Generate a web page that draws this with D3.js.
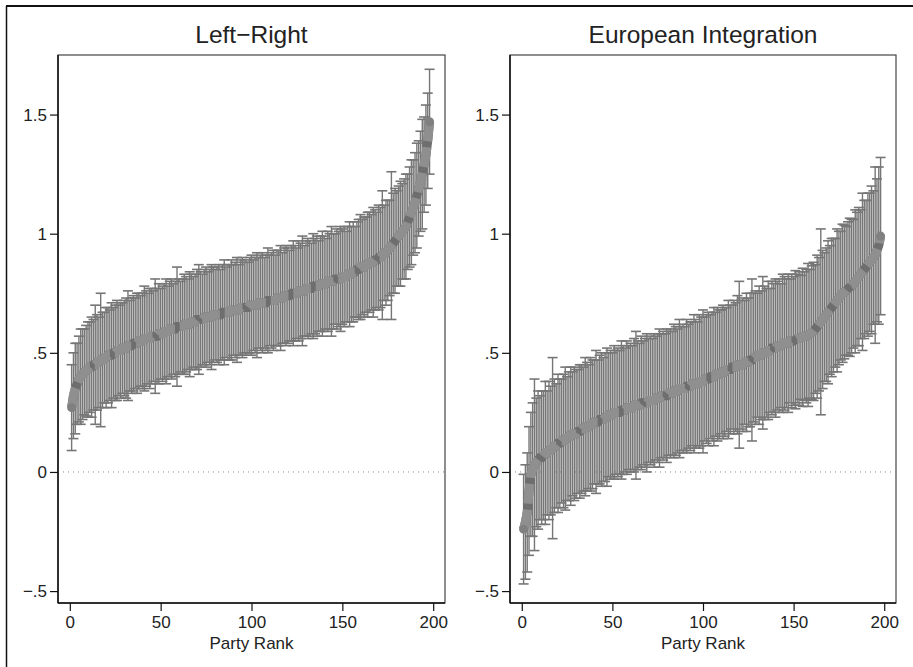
<!DOCTYPE html>
<html>
<head>
<meta charset="UTF-8">
<title>Party Rank</title>
<style>
    body { margin: 0; padding: 0; background: #fff; }
    svg { display: block; }
    text { font-family: "Liberation Sans", Arial, Helvetica, sans-serif; fill: #222; }
</style>
<script src="https://d3js.org/d3.v7.min.js"></script>
</head>
<body>
<script>
const width = 913;
const height = 667;

const yTicks = [-0.5, 0, 0.5, 1, 1.5];
const xTicks = [0, 50, 100, 150, 200];
const panelTitles = ["Left\u2212Right", "European Integration"];
const xLabel = "Party Rank";

// Left-Right: estimated mean per party rank (1..198) and CI half-width
const lrMean = [
    0.27, 0.32, 0.35, 0.37, 0.39, 0.40, 0.41, 0.42, 0.425, 0.43,
    0.44, 0.44, 0.45, 0.45, 0.46, 0.46, 0.47, 0.47, 0.48, 0.48,
    0.49, 0.49, 0.49, 0.50, 0.50, 0.51, 0.51, 0.51, 0.52, 0.52,
    0.52, 0.53, 0.53, 0.53, 0.54, 0.54, 0.54, 0.55, 0.55, 0.55,
    0.56, 0.56, 0.56, 0.56, 0.57, 0.57, 0.57, 0.57, 0.58, 0.58,
    0.58, 0.59, 0.59, 0.59, 0.60, 0.60, 0.60, 0.60, 0.61, 0.61,
    0.61, 0.61, 0.62, 0.62, 0.62, 0.62, 0.63, 0.63, 0.63, 0.64,
    0.64, 0.64, 0.64, 0.65, 0.65, 0.65, 0.65, 0.65, 0.66, 0.66,
    0.66, 0.66, 0.66, 0.67, 0.67, 0.67, 0.67, 0.67, 0.68, 0.68,
    0.68, 0.68, 0.68, 0.69, 0.69, 0.69, 0.69, 0.69, 0.70, 0.70,
    0.70, 0.70, 0.70, 0.71, 0.71, 0.71, 0.71, 0.71, 0.72, 0.72,
    0.72, 0.72, 0.72, 0.73, 0.73, 0.73, 0.73, 0.74, 0.74, 0.74,
    0.74, 0.75, 0.75, 0.75, 0.75, 0.76, 0.76, 0.76, 0.76, 0.77,
    0.77, 0.77, 0.77, 0.78, 0.78, 0.78, 0.78, 0.79, 0.79, 0.79,
    0.79, 0.80, 0.80, 0.80, 0.80, 0.81, 0.81, 0.81, 0.81, 0.82,
    0.82, 0.82, 0.83, 0.83, 0.83, 0.84, 0.84, 0.85, 0.85, 0.86,
    0.86, 0.86, 0.87, 0.87, 0.88, 0.88, 0.88, 0.89, 0.89, 0.90,
    0.90, 0.91, 0.92, 0.92, 0.93, 0.94, 0.95, 0.96, 0.97, 0.98,
    0.99, 1.00, 1.01, 1.02, 1.03, 1.05, 1.07, 1.09, 1.11, 1.13,
    1.16, 1.19, 1.22, 1.25, 1.29, 1.33, 1.39, 1.47
];
const lrHalf = [
    0.18, 0.18, 0.19, 0.17, 0.18, 0.20, 0.19, 0.18, 0.19, 0.20,
    0.19, 0.21, 0.19, 0.25, 0.20, 0.19, 0.28, 0.20, 0.19, 0.21,
    0.20, 0.19, 0.22, 0.19, 0.20, 0.21, 0.19, 0.20, 0.19, 0.20,
    0.21, 0.23, 0.19, 0.20, 0.20, 0.19, 0.21, 0.20, 0.19, 0.20,
    0.22, 0.20, 0.19, 0.21, 0.20, 0.19, 0.24, 0.20, 0.21, 0.19,
    0.20, 0.20, 0.22, 0.19, 0.20, 0.21, 0.19, 0.20, 0.25, 0.20,
    0.19, 0.20, 0.21, 0.20, 0.19, 0.22, 0.20, 0.19, 0.20, 0.21,
    0.23, 0.20, 0.19, 0.20, 0.21, 0.19, 0.20, 0.22, 0.20, 0.19,
    0.20, 0.21, 0.19, 0.20, 0.22, 0.19, 0.20, 0.20, 0.21, 0.19,
    0.20, 0.22, 0.19, 0.20, 0.21, 0.19, 0.20, 0.19, 0.20, 0.21,
    0.19, 0.20, 0.22, 0.19, 0.20, 0.21, 0.19, 0.20, 0.22, 0.19,
    0.20, 0.21, 0.19, 0.20, 0.20, 0.22, 0.19, 0.20, 0.21, 0.20,
    0.19, 0.20, 0.22, 0.20, 0.19, 0.21, 0.20, 0.23, 0.19, 0.20,
    0.21, 0.20, 0.19, 0.22, 0.20, 0.21, 0.19, 0.20, 0.22, 0.20,
    0.19, 0.21, 0.20, 0.23, 0.20, 0.19, 0.21, 0.20, 0.22, 0.20,
    0.21, 0.19, 0.20, 0.22, 0.20, 0.21, 0.19, 0.20, 0.21, 0.22,
    0.20, 0.21, 0.20, 0.22, 0.21, 0.20, 0.23, 0.21, 0.20, 0.22,
    0.21, 0.27, 0.20, 0.22, 0.21, 0.20, 0.31, 0.21, 0.22, 0.20,
    0.21, 0.22, 0.20, 0.21, 0.22, 0.20, 0.21, 0.22, 0.20, 0.21,
    0.22, 0.20, 0.21, 0.23, 0.20, 0.21, 0.20, 0.22
];

// European Integration: estimated mean per party rank (1..198) and CI half-width
const euMean = [
    -0.24, -0.21, -0.17, -0.08, -0.01, 0.01, 0.03, 0.04, 0.05, 0.06,
    0.06, 0.07, 0.08, 0.08, 0.09, 0.09, 0.10, 0.11, 0.11, 0.12,
    0.12, 0.13, 0.13, 0.14, 0.14, 0.15, 0.15, 0.16, 0.16, 0.16,
    0.17, 0.17, 0.18, 0.18, 0.19, 0.19, 0.19, 0.20, 0.20, 0.21,
    0.21, 0.21, 0.22, 0.22, 0.22, 0.23, 0.23, 0.24, 0.24, 0.24,
    0.25, 0.25, 0.25, 0.25, 0.26, 0.26, 0.26, 0.27, 0.27, 0.27,
    0.27, 0.28, 0.28, 0.28, 0.28, 0.29, 0.29, 0.29, 0.29, 0.30,
    0.30, 0.30, 0.30, 0.31, 0.31, 0.31, 0.32, 0.32, 0.32, 0.32,
    0.33, 0.33, 0.33, 0.34, 0.34, 0.34, 0.35, 0.35, 0.35, 0.35,
    0.36, 0.36, 0.36, 0.37, 0.37, 0.37, 0.37, 0.38, 0.38, 0.38,
    0.39, 0.39, 0.39, 0.40, 0.40, 0.40, 0.41, 0.41, 0.41, 0.42,
    0.42, 0.42, 0.43, 0.43, 0.43, 0.44, 0.44, 0.44, 0.45, 0.45,
    0.45, 0.45, 0.46, 0.46, 0.46, 0.47, 0.47, 0.48, 0.48, 0.49,
    0.49, 0.49, 0.50, 0.50, 0.50, 0.51, 0.51, 0.52, 0.52, 0.52,
    0.53, 0.53, 0.53, 0.54, 0.54, 0.54, 0.54, 0.55, 0.55, 0.55,
    0.555, 0.56, 0.56, 0.565, 0.565, 0.57, 0.57, 0.575, 0.58, 0.585,
    0.59, 0.60, 0.61, 0.62, 0.63, 0.64, 0.65, 0.66, 0.67, 0.68,
    0.69, 0.70, 0.71, 0.72, 0.73, 0.74, 0.75, 0.755, 0.76, 0.77,
    0.775, 0.78, 0.79, 0.80, 0.81, 0.82, 0.83, 0.84, 0.85, 0.86,
    0.87, 0.88, 0.89, 0.90, 0.91, 0.93, 0.95, 0.99
];
const euHalf = [
    0.23, 0.24, 0.25, 0.27, 0.26, 0.28, 0.36, 0.27, 0.29, 0.26,
    0.28, 0.27, 0.30, 0.26, 0.29, 0.27, 0.38, 0.28, 0.26, 0.29,
    0.27, 0.26, 0.28, 0.30, 0.26, 0.27, 0.29, 0.26, 0.28, 0.27,
    0.26, 0.28, 0.27, 0.26, 0.29, 0.27, 0.26, 0.28, 0.27, 0.26,
    0.30, 0.26, 0.27, 0.28, 0.26, 0.27, 0.29, 0.26, 0.27, 0.26,
    0.28, 0.26, 0.27, 0.26, 0.29, 0.27, 0.26, 0.28, 0.26, 0.27,
    0.26, 0.28, 0.31, 0.27, 0.26, 0.28, 0.26, 0.27, 0.29, 0.26,
    0.27, 0.26, 0.28, 0.26, 0.27, 0.29, 0.26, 0.27, 0.26, 0.28,
    0.26, 0.27, 0.26, 0.28, 0.27, 0.26, 0.29, 0.26, 0.27, 0.26,
    0.28, 0.26, 0.27, 0.26, 0.29, 0.27, 0.26, 0.28, 0.27, 0.30,
    0.26, 0.27, 0.28, 0.26, 0.27, 0.29, 0.26, 0.28, 0.27, 0.26,
    0.28, 0.27, 0.26, 0.29, 0.27, 0.26, 0.28, 0.27, 0.29, 0.35,
    0.27, 0.28, 0.26, 0.29, 0.27, 0.28, 0.34, 0.27, 0.28, 0.26,
    0.29, 0.27, 0.32, 0.28, 0.27, 0.29, 0.26, 0.28, 0.27, 0.29,
    0.27, 0.28, 0.26, 0.29, 0.28, 0.27, 0.29, 0.26, 0.28, 0.27,
    0.29, 0.27, 0.28, 0.26, 0.29, 0.27, 0.28, 0.30, 0.27, 0.28,
    0.29, 0.27, 0.30, 0.28, 0.39, 0.29, 0.27, 0.28, 0.30, 0.27,
    0.29, 0.28, 0.27, 0.30, 0.28, 0.27, 0.29, 0.28, 0.27, 0.28,
    0.29, 0.28, 0.27, 0.30, 0.28, 0.29, 0.27, 0.33, 0.29, 0.28,
    0.30, 0.29, 0.31, 0.28, 0.37, 0.30, 0.33, 0.33
];

const panels = [
    { title: panelTitles[0], mean: lrMean, half: lrHalf, left: 58, right: 445 },
    { title: panelTitles[1], mean: euMean, half: euHalf, left: 510, right: 896 }
];

const plotTop = 55, plotBottom = 603;
const barColor = "#767676";

const svg = d3.select("body").append("svg")
    .attr("width", width)
    .attr("height", height);

// outer frame (top and left edges only are visible)
svg.append("line").attr("x1", 6).attr("x2", width).attr("y1", 6).attr("y2", 6)
    .attr("stroke", "#111").attr("stroke-width", 2);
svg.append("line").attr("x1", 6.5).attr("x2", 6.5).attr("y1", 6).attr("y2", height)
    .attr("stroke", "#111").attr("stroke-width", 1.5);

function fmtY(v) {
    if (v === 0) return "0";
    let s = String(Math.abs(v)).replace(/^0\./, ".");
    return (v < 0 ? "\u2212" : "") + s;
}

panels.forEach(function(p) {
    const x = d3.scaleLinear().domain([-6.5, 206.5]).range([p.left, p.right]);
    const y = d3.scaleLinear().domain([-0.55, 1.75]).range([plotBottom, plotTop]);
    const g = svg.append("g");

    const rows = p.mean.map(function(m, i) {
        return { rank: i + 1, mean: m, lo: m - p.half[i], hi: m + p.half[i] };
    });

    // plot region outline
    g.append("rect")
        .attr("x", p.left).attr("y", plotTop)
        .attr("width", p.right - p.left).attr("height", plotBottom - plotTop)
        .attr("fill", "none").attr("stroke", "#444").attr("stroke-width", 1.2);

    // zero reference line
    g.append("line")
        .attr("x1", p.left).attr("x2", p.right)
        .attr("y1", y(0)).attr("y2", y(0))
        .attr("stroke", "#888").attr("stroke-width", 1)
        .attr("stroke-dasharray", "1,4");

    // error bars
    g.selectAll(".bar").data(rows).enter().append("line")
        .attr("x1", d => x(d.rank)).attr("x2", d => x(d.rank))
        .attr("y1", d => y(d.lo)).attr("y2", d => y(d.hi))
        .attr("stroke", barColor).attr("stroke-width", 1.4);

    g.selectAll(".capHi").data(rows).enter().append("line")
        .attr("x1", d => x(d.rank) - 5).attr("x2", d => x(d.rank) + 5)
        .attr("y1", d => y(d.hi)).attr("y2", d => y(d.hi))
        .attr("stroke", barColor).attr("stroke-width", 1.6);

    g.selectAll(".capLo").data(rows).enter().append("line")
        .attr("x1", d => x(d.rank) - 5).attr("x2", d => x(d.rank) + 5)
        .attr("y1", d => y(d.lo)).attr("y2", d => y(d.lo))
        .attr("stroke", barColor).attr("stroke-width", 1.6);

    // connected means: dark underlay + lighter thick dashes
    const line = d3.line().x(d => x(d.rank)).y(d => y(d.mean));
    g.append("path").datum(rows).attr("d", line)
        .attr("fill", "none").attr("stroke", "#6e6e6e").attr("stroke-width", 9);
    g.append("path").datum(rows).attr("d", line)
        .attr("fill", "none").attr("stroke", "#8f8f8f").attr("stroke-width", 9)
        .attr("stroke-dasharray", "20,6");
    [rows[0], rows[rows.length - 1]].forEach(function(d) {
        g.append("circle").attr("cx", x(d.rank)).attr("cy", y(d.mean))
            .attr("r", 4.5).attr("fill", "#808080");
    });

    // axes
    const yAxis = d3.axisLeft(y).tickValues(yTicks).tickSize(8).tickPadding(3).tickFormat(fmtY);
    const ya = g.append("g").attr("transform", `translate(${p.left},0)`).call(yAxis);
    const xAxis = d3.axisBottom(x).tickValues(xTicks).tickSize(8).tickPadding(5);
    const xa = g.append("g").attr("transform", `translate(0,${plotBottom})`).call(xAxis);
    [ya, xa].forEach(function(a) {
        a.attr("font-size", 17).attr("font-family", '"Liberation Sans", Arial, sans-serif');
        a.select(".domain").attr("stroke", "#111").attr("stroke-width", 1.5);
        a.selectAll(".tick line").attr("stroke", "#111").attr("stroke-width", 1.2);
        a.selectAll(".tick text").attr("fill", "#222");
    });
    ya.select(".domain").attr("d", `M0,${plotTop}V${plotBottom}`);
    xa.select(".domain").attr("d", `M${p.left},0H${p.right}`);

    // titles
    const cx = (x(0) + x(200)) / 2;
    g.append("text").attr("x", cx).attr("y", 43)
        .attr("text-anchor", "middle").style("font-size", "24.5px")
        .text(p.title);
    g.append("text").attr("x", cx).attr("y", 649)
        .attr("text-anchor", "middle").style("font-size", "17px")
        .text(xLabel);
});
</script>
</body>
</html>
